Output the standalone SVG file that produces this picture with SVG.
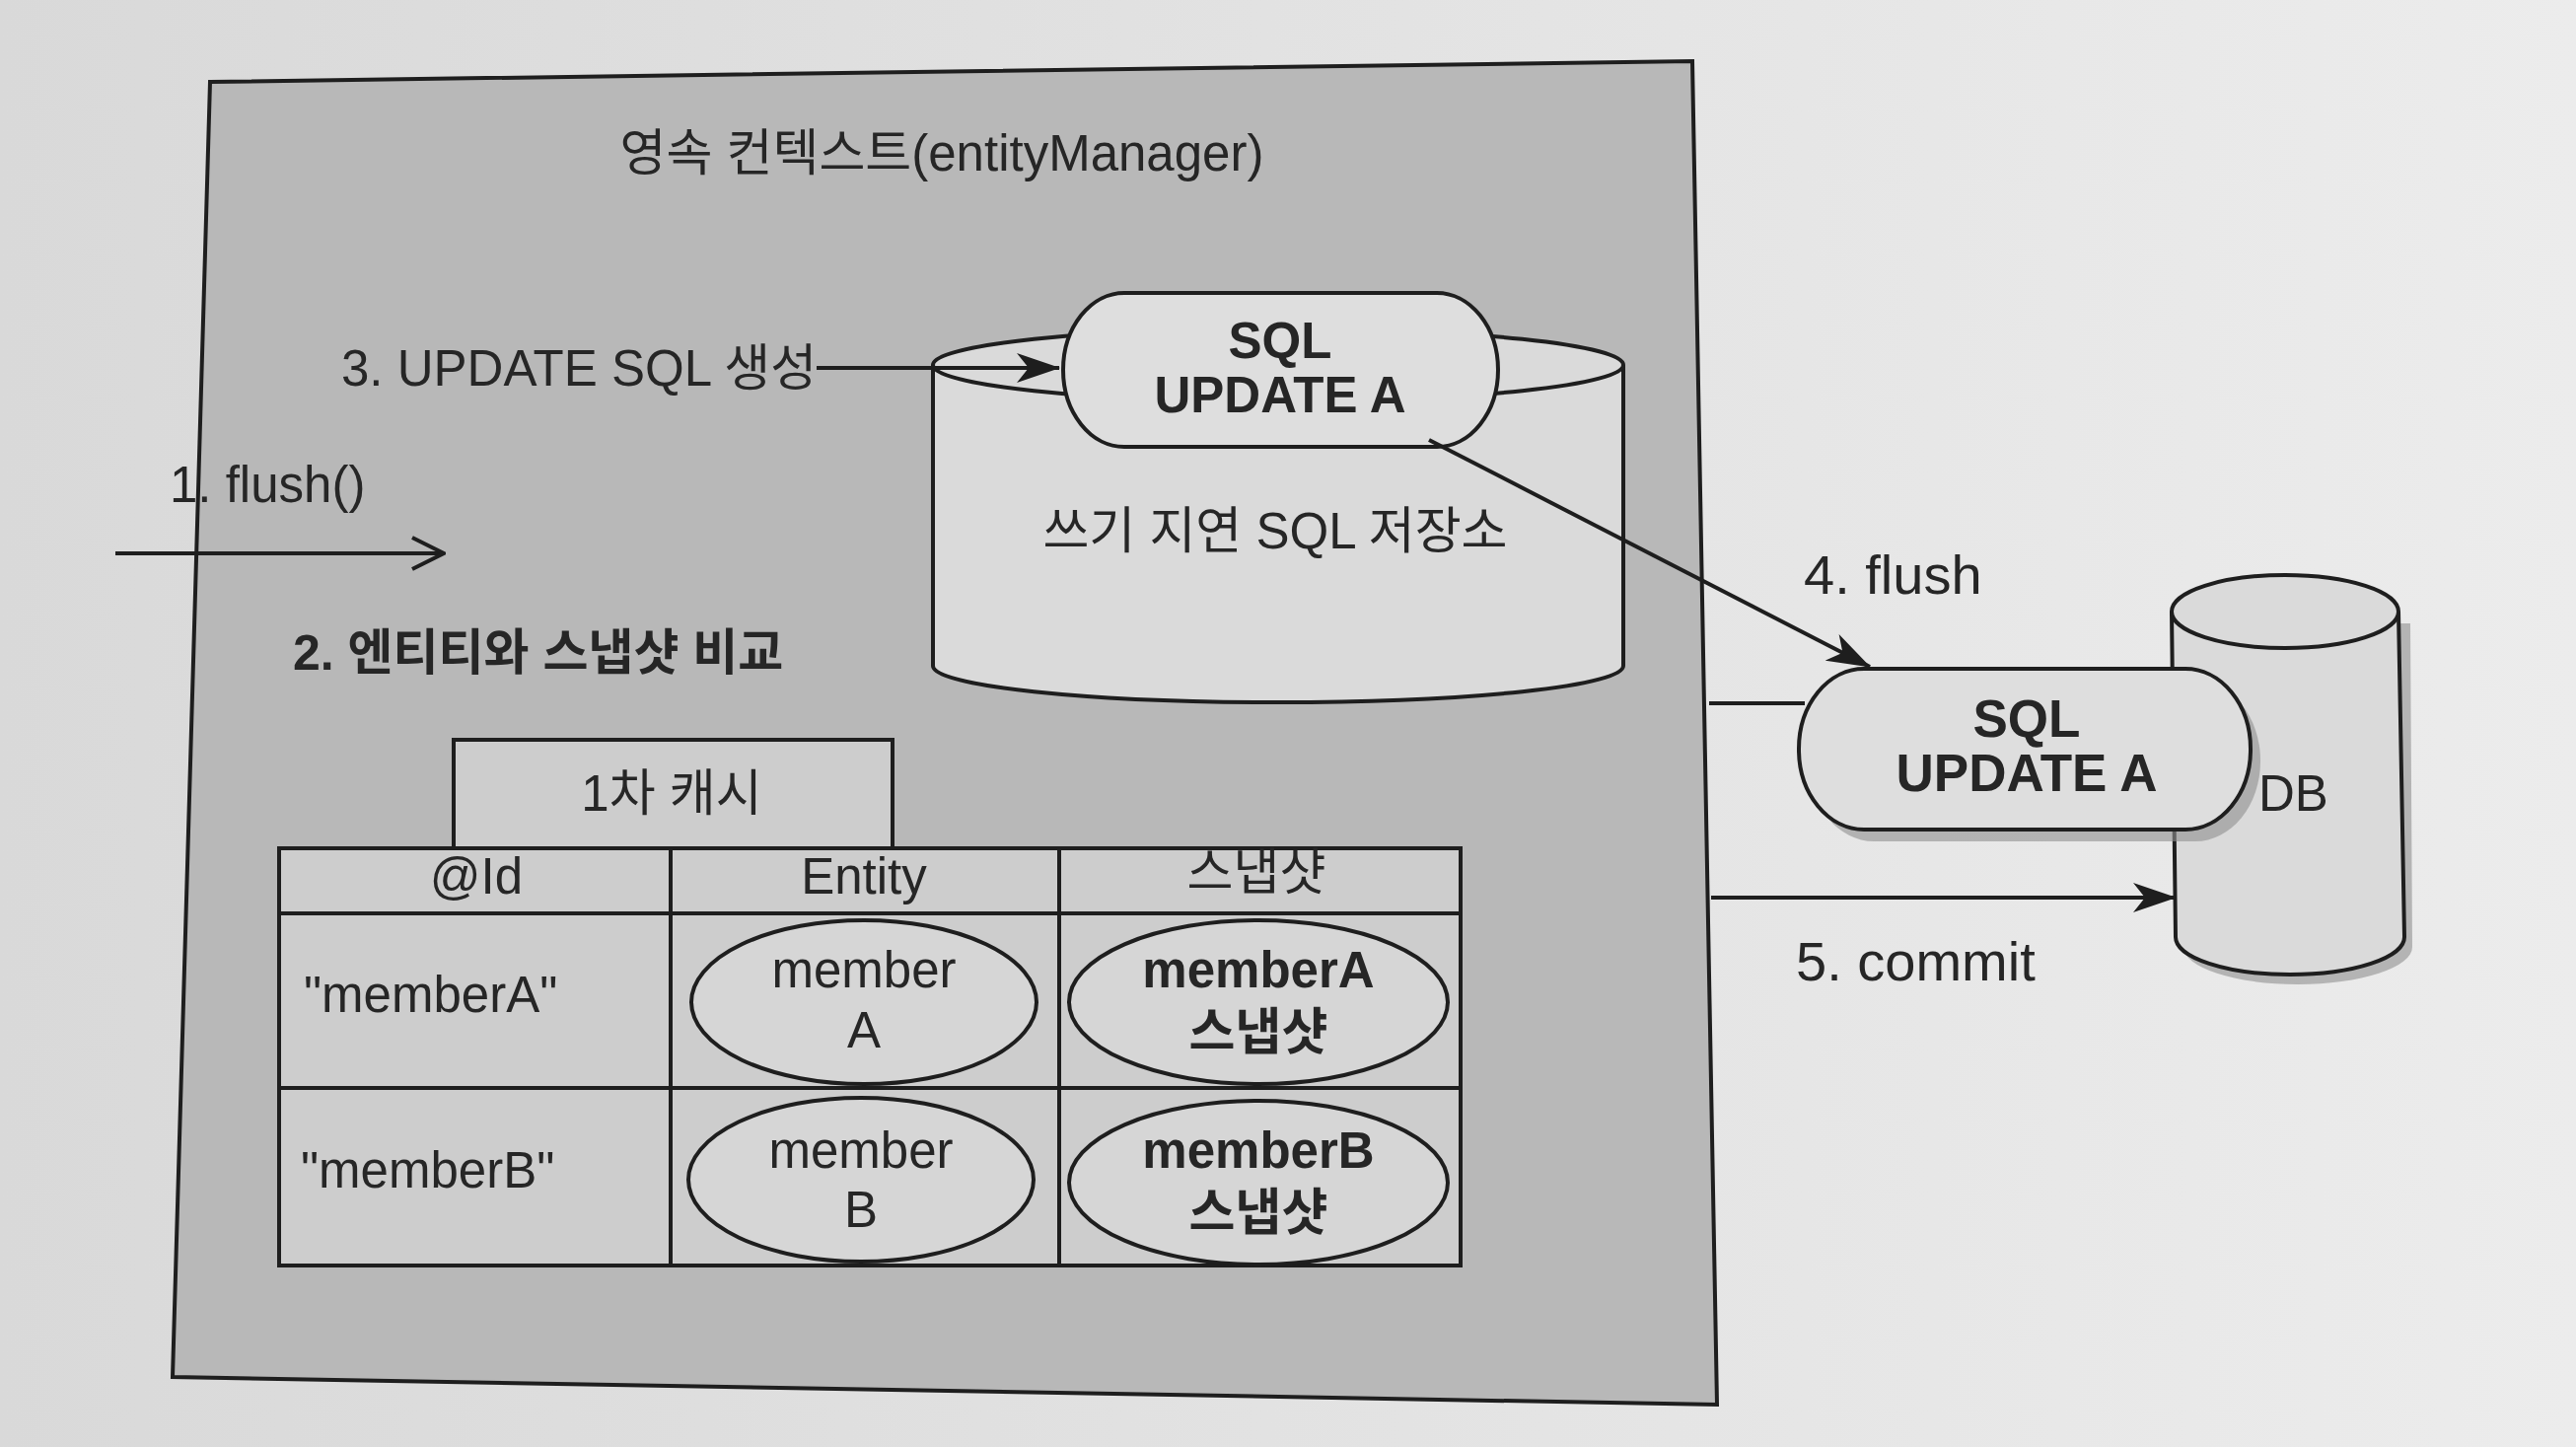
<svg xmlns="http://www.w3.org/2000/svg" width="2612" height="1467" viewBox="0 0 2612 1467">
<defs>
<linearGradient id="bg" x1="0" y1="0" x2="1" y2="0">
<stop offset="0" stop-color="#d9d9d9"/>
<stop offset="0.6" stop-color="#e4e4e4"/>
<stop offset="1" stop-color="#ececec"/>
</linearGradient>
<marker id="bigdart" viewBox="0 0 44 30" refX="43" refY="15" markerWidth="44" markerHeight="30" markerUnits="userSpaceOnUse" orient="auto">
<path d="M0,0 L44,15 L0,30 L12,15 Z" fill="#1e1e1e"/>
</marker>
<marker id="chev" viewBox="0 0 40 40" refX="38" refY="20" markerWidth="40" markerHeight="40" markerUnits="userSpaceOnUse" orient="auto">
<path d="M6,4 L38,20 L6,36" fill="none" stroke="#1e1e1e" stroke-width="4"/>
</marker>
</defs>
<style>
text{font-family:"Liberation Sans","Noto Sans CJK KR",sans-serif;fill:#262626;}
.t{font-size:51px;}
.b{font-size:51px;font-weight:bold;}
.b2{font-size:50px;font-weight:bold;}
.r{font-size:56px;}
.rb{font-size:53px;font-weight:bold;}
.m{text-anchor:middle;}
.ln{stroke:#1e1e1e;stroke-width:4;fill:none;}
.cell{fill:#cdcdcd;stroke:#1e1e1e;stroke-width:4;}
.ell{fill:#d6d6d6;stroke:#1e1e1e;stroke-width:4;}
.pill{fill:#dedede;stroke:#1e1e1e;stroke-width:4;}
.cyl{fill:#dadada;stroke:#1e1e1e;stroke-width:4;}
.shadow{fill:#8f8f8f;opacity:0.6;}
</style>
<rect x="0" y="0" width="2612" height="1467" fill="url(#bg)"/>

<g id="persistence-context">
<polygon points="213,83 1716,62 1741,1424 175,1396" fill="#b8b8b8" stroke="#1e1e1e" stroke-width="4"/>
<text class="t m" x="955" y="173">영속 컨텍스트(entityManager)</text>
</g>

<g id="write-behind-store">
<path class="cyl" d="M946,370 L946,675 A350,37 0 0 0 1646,675 L1646,370"/>
<ellipse class="cyl" cx="1296" cy="370" rx="350" ry="37"/>
<text class="t m" x="1293" y="556">쓰기 지연 SQL 저장소</text>
</g>

<g id="sql-update-a-store">
<rect class="pill" x="1078" y="297" width="441" height="156" rx="62" ry="78"/>
<text class="b m" x="1298" y="363">SQL</text>
<text class="b m" x="1298" y="418">UPDATE A</text>
</g>

<g id="db">
<path class="shadow" d="M2212,632 L2214,960 A116,38 0 0 0 2446,960 L2444,632 Z"/>
<path class="cyl" d="M2202,620 L2206,950 A116,38 0 0 0 2438,950 L2432,620"/>
<ellipse class="cyl" cx="2317" cy="620" rx="115" ry="37"/>
<text class="t" x="2290" y="822">DB</text>
</g>

<g id="sql-update-a-db">
<rect class="shadow" x="1834" y="690" width="458" height="163" rx="66" ry="81"/>
<rect class="pill" x="1824" y="678" width="458" height="163" rx="66" ry="81"/>
<text class="rb m" x="2055" y="747">SQL</text>
<text class="rb m" x="2055" y="802">UPDATE A</text>
</g>

<g id="first-level-cache">
<rect class="cell" x="460" y="750" width="445" height="110"/>
<text class="t m" x="681" y="822">1차 캐시</text>
<rect class="cell" x="283" y="860" width="397" height="66"/>
<rect class="cell" x="680" y="860" width="394" height="66"/>
<rect class="cell" x="1074" y="860" width="407" height="66"/>
<rect class="cell" x="283" y="926" width="397" height="177"/>
<rect class="cell" x="680" y="926" width="394" height="177"/>
<rect class="cell" x="1074" y="926" width="407" height="177"/>
<rect class="cell" x="283" y="1103" width="397" height="180"/>
<rect class="cell" x="680" y="1103" width="394" height="180"/>
<rect class="cell" x="1074" y="1103" width="407" height="180"/>
<text class="t m" x="483" y="906">@Id</text>
<text class="t m" x="876" y="906">Entity</text>
<text class="t m" x="1274" y="902">스냅샷</text>
<text class="t" x="308" y="1026">"memberA"</text>
<text class="t" x="305" y="1204">"memberB"</text>
</g>

<g id="member-a">
<ellipse class="ell" cx="876" cy="1016" rx="175" ry="83"/>
<text class="t m" x="876" y="1001">member</text>
<text class="t m" x="876" y="1062">A</text>
</g>
<g id="member-a-snapshot">
<ellipse class="ell" cx="1276" cy="1016" rx="192" ry="83"/>
<text class="b m" x="1276" y="1001">memberA</text>
<text class="b m" x="1276" y="1064">스냅샷</text>
</g>
<g id="member-b">
<ellipse class="ell" cx="873" cy="1196" rx="175" ry="83"/>
<text class="t m" x="873" y="1184">member</text>
<text class="t m" x="873" y="1244">B</text>
</g>
<g id="member-b-snapshot">
<ellipse class="ell" cx="1276" cy="1199" rx="192" ry="83"/>
<text class="b m" x="1276" y="1184">memberB</text>
<text class="b m" x="1276" y="1247">스냅샷</text>
</g>

<g id="labels">
<text class="t" x="346" y="391">3. UPDATE SQL 생성</text>
<text class="t" x="172" y="509">1. flush()</text>
<text class="b2" x="297" y="679">2. 엔티티와 스냅샷 비교</text>
<text class="r" x="1829" y="602">4. flush</text>
<text class="r" x="1821" y="994">5. commit</text>
</g>

<g id="connectors">
<line class="ln" x1="828" y1="373" x2="1074" y2="373" marker-end="url(#bigdart)"/>
<line class="ln" x1="117" y1="561" x2="450" y2="561" marker-end="url(#chev)"/>
<line class="ln" x1="1449" y1="446" x2="1896" y2="676" marker-end="url(#bigdart)"/>
<line class="ln" x1="1733" y1="713" x2="1830" y2="713"/>
<line class="ln" x1="1735" y1="910" x2="2206" y2="910" marker-end="url(#bigdart)"/>
</g>
</svg>
